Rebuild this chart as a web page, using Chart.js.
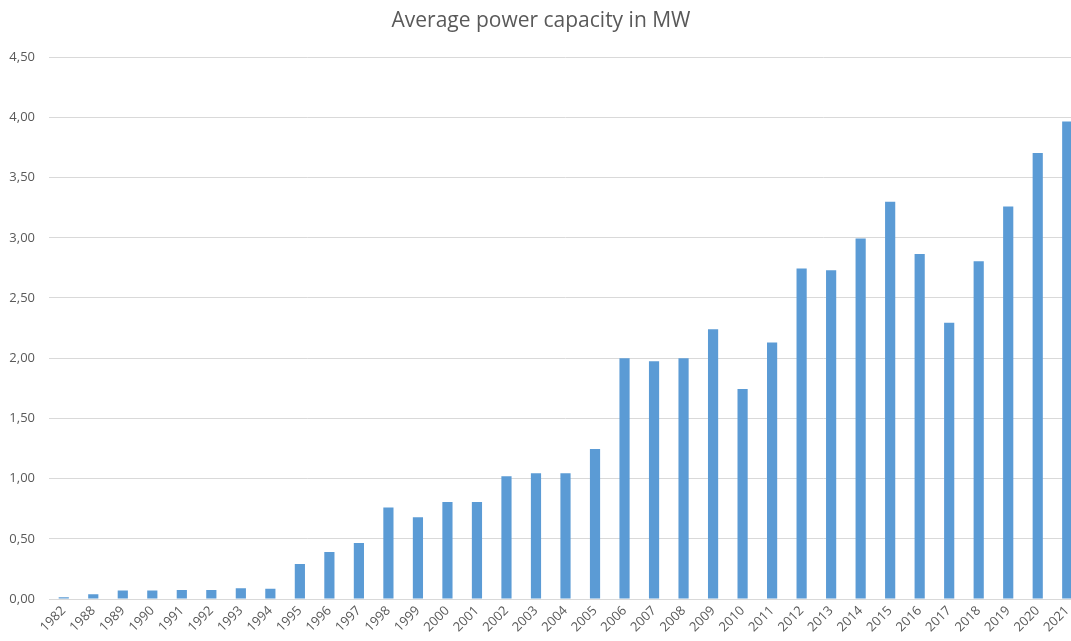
<!DOCTYPE html>
<html>
<head>
<meta charset="utf-8">
<script src="https://cdn.jsdelivr.net/npm/chart.js@4"></script>
<style>
  html, body { margin: 0; padding: 0; overflow: hidden; background: #fff; }
  #wrap { width: 1095px; height: 641px; }
</style>
</head>
<body>
<div id="wrap"><canvas id="myChart" width="1095" height="641"></canvas></div>
<script>
// du lieu
var years = ['1982', '1988', '1989', '1990', '1991', '1992', '1993', '1994', '1995', '1996',
  '1997', '1998', '1999', '2000', '2001', '2002', '2003', '2004', '2005', '2006',
  '2007', '2008', '2009', '2010', '2011', '2012', '2013', '2014', '2015', '2016',
  '2017', '2018', '2019', '2020', '2021'];
var capacity = [0.015, 0.04, 0.07, 0.07, 0.075, 0.075, 0.09, 0.085, 0.29, 0.39,
  0.465, 0.76, 0.68, 0.805, 0.805, 1.02, 1.045, 1.045, 1.245, 2.00,
  1.975, 2.00, 2.24, 1.745, 2.13, 2.745, 2.73, 2.995, 3.30, 2.865,
  2.295, 2.805, 3.26, 3.705, 3.965];
var yTicks = [0, 0.5, 1, 1.5, 2, 2.5, 3, 3.5, 4, 4.5];

const ctx = document.getElementById('myChart');
var textColor = '#595959';

var cfg = {
  type: 'bar',
  data: {
    labels: years,
    datasets: [{
      label: 'Average power capacity in MW',
      data: capacity,
      backgroundColor: '#5B9BD5',
      borderWidth: 0,
      categoryPercentage: 1,
      barPercentage: 0.345
    }]
  },
  options: {
    responsive: false,
    animation: false,
    layout: { padding: { left: 0, right: 13, top: 0, bottom: 0 } },
    plugins: {
      legend: { display: false },
      tooltip: { enabled: false },
      title: {
        display: true,
        text: 'Average power capacity in MW',
        color: textColor,
        font: { family: 'Open Sans', size: 21, weight: 'normal' },
        padding: { top: 8, bottom: 24 }
      }
    },
    scales: {
      x: {
        grid: { display: false, drawTicks: false },
        border: { display: true, color: '#D9D9D9' },
        ticks: {
          autoSkip: false,
          maxRotation: 45,
          minRotation: 45,
          color: textColor,
          padding: 4,
          font: { family: 'Open Sans', size: 13 }
        },
        afterFit: function (s) { s.height = 42; }
      },
      y: {
        min: 0,
        max: 4.5,
        afterBuildTicks: function (s) {
          s.ticks = yTicks.map(function (v) { return { value: v }; });
        },
        grid: { color: '#D9D9D9', drawTicks: false },
        border: { display: false },
        ticks: {
          color: textColor,
          padding: 14,
          font: { family: 'Open Sans', size: 13 },
          callback: function (v) { return v.toFixed(2).replace('.', ','); }
        },
        afterFit: function (s) { s.width = 49; }
      }
    }
  }
};

myChart1 = new Chart(ctx, cfg);
</script>
</body>
</html>
